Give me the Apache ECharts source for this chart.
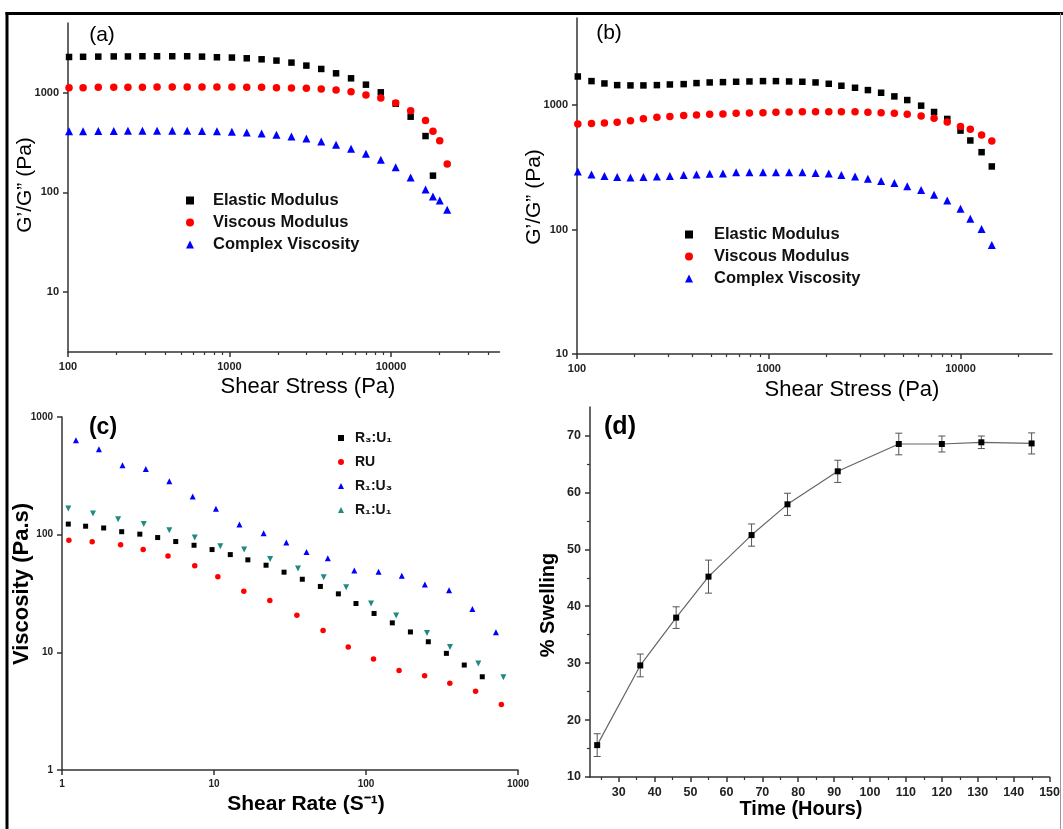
<!DOCTYPE html>
<html><head><meta charset="utf-8">
<script src="https://cdn.jsdelivr.net/npm/echarts@6/dist/echarts.min.js"></script>
<style>html,body{margin:0;padding:0;background:#fff}#c{width:1063px;height:829px}</style>
</head><body><div id="c"></div>
<script>
// ---------- Panel (a) ----------
const aStress = [101.5,124,154,192,235,289,356,442,547,676,836,1035,1279,1581,1954,2420,2993,3700,4571,5660,7000,8650,10700,13240,16370,18200,20040,22300];
const aElastic = [2280,2290,2300,2310,2310,2320,2320,2320,2320,2300,2265,2250,2213,2162,2098,2003,1869,1729,1564,1393,1203,1008,774,574,367,147];
const aViscous = [1123,1123,1131,1131,1131,1131,1140,1140,1140,1140,1140,1140,1131,1131,1123,1114,1105,1089,1064,1023,948,884,787,659,527,409,329,192];
const aComplex = [409,409,412,412,415,415,415,415,415,412,409,405,399,390,378,364,347,324,300,274,244,212,178,141,107,91,83,67];
// ---------- Panel (b) ----------
const bStress = [101,119,139,162,190,222,261,305,360,420,492,577,676,793,933,1090,1277,1497,1754,2056,2392,2818,3289,3855,4519,5275,6233,7280,8530,10000,11250,12880,14560];
const bElastic = [1695,1556,1490,1445,1437,1437,1445,1462,1472,1500,1518,1527,1537,1546,1556,1556,1546,1537,1518,1481,1428,1376,1318,1255,1173,1096,988,879,773,623,519,418,321];
const bViscous = [705,709,718,727,749,777,797,807,822,832,842,847,858,863,868,874,879,884,884,884,884,884,874,868,858,842,817,782,731,671,639,575,515];
const bComplex = [293,277,269,264,262,264,267,269,274,277,281,282,288,288,289,289,289,288,284,282,274,267,256,245,236,223,208,190,171,147,122,101,75];
// ---------- Panel (c) ----------
const cR3U1x = [1.10,1.43,1.88,2.47,3.25,4.26,5.60,7.39,9.71,12.8,16.7,22.0,28.9,38.1,50.1,65.8,85.9,113,149,196,257,338,443,582];
const cR3U1y = [123,118,114,106,101,94.5,87.4,81.3,74.7,67.7,61.1,55.0,48.0,41.8,36.3,31.4,26.0,21.4,17.8,14.9,12.3,9.8,7.8,6.2];
const cRUx = [1.11,1.58,2.43,3.42,4.98,7.47,10.6,15.7,23.3,35.1,52.2,76.4,112,165,243,356,526,777];
const cRUy = [89.7,86.9,81.9,74.7,66.0,54.3,43.8,33.1,27.6,20.7,15.3,11.1,8.76,7.01,6.32,5.45,4.66,3.61];
const cR1U3x = [1.235,1.75,2.50,3.56,5.08,7.24,10.3,14.7,21.2,29.9,40.6,56.1,83.8,121,172,244,352,501,716];
const cR1U3y = [634,531,389,362,284,211,166,122,103,85.7,71.4,63.1,49.6,48.3,44.7,37.7,33.7,23.4,14.8];
const cR1U1x = [1.10,1.60,2.34,3.45,5.08,7.47,11.0,15.8,23.4,35.7,52.7,74.1,108,158,252,357,548,801];
const cR1U1y = [167,151,135,123,109,94.5,79.7,74.7,62.2,51.5,43.5,35.8,26.0,20.6,14.6,11.1,8.04,6.15];
const cNames = ['R\u2083:U\u2081','RU','R\u2081:U\u2083','R\u2081:U\u2081'];
// ---------- Panel (d) ----------
const dTime = [24,36,46,55,67,77,91,108,120,131,145];
const dSwell = [15.6,29.6,38.0,45.2,52.5,57.9,63.7,68.5,68.5,68.8,68.6];
const dErr = [2.0,2.0,1.9,2.9,1.95,1.95,1.95,1.9,1.4,1.1,1.85];
// ---------- Tick labels ----------
const abXTicks = [100,1000,10000];
const aXMinor = [200,300,400,500,600,700,800,900,2000,3000,4000,5000,6000,7000,8000,9000,20000,30000,40000];
const bXMinor = [200,300,400,500,600,700,800,900,2000,3000,4000,5000,6000,7000,8000,9000,20000];
const abYTicks = [10,100,1000];
const cTicks = [1,10,100,1000];
const dXTicks = [30,40,50,60,70,80,90,100,110,120,130,140,150];
const dXMinor = [25,35,45,55,65,75,85,95,105,115,125,135,145];
const dYTicks = [10,20,30,40,50,60,70];
const dYMinor = [15,25,35,45,55,65];

const FONT = "'Liberation Sans', Arial, Helvetica, sans-serif";
const AX = '#333';
const zip = (xs, ys) => ys.map((y, i) => [xs[i], y]);

function axis(gridIndex, type, min, max, labels, fontSize, extra) {
  return Object.assign({
    gridIndex, type, min, max,
    axisLine: {show: true, lineStyle: {color: AX, width: 1.5}},
    axisTick: {show: true, inside: false, length: 5, customValues: labels, lineStyle: {color: AX, width: 1.5}},
    axisLabel: {show: true, customValues: labels, margin: 9, color: '#222', fontFamily: FONT, fontWeight: 'bold', fontSize,
      formatter: v => String(Math.round(v * 1000) / 1000)},
    splitLine: {show: false}, minorTick: {show: false}, minorSplitLine: {show: false}
  }, extra || {});
}
function minorAxis(gridIndex, type, min, max, ticks) {
  return {
    gridIndex, type, min, max,
    axisLine: {show: false},
    axisTick: {show: ticks.length > 0, inside: false, length: 3, customValues: ticks, lineStyle: {color: AX, width: 1.2}},
    axisLabel: {show: false},
    splitLine: {show: false}
  };
}
function hiddenAxis(gridIndex) {
  return {gridIndex, type: 'value', min: 0, max: 1, show: false};
}

const grids = [
  {left: 68, top: 23, width: 431.5, height: 329},
  {left: 577, top: 18, width: 475, height: 336},
  {left: 62, top: 417, width: 456, height: 353},
  {left: 590, top: 407, width: 460, height: 370}
];
const allGrids = grids.concat([grids[0], grids[1], grids[3]]).map(g => Object.assign({containLabel: false}, g));

const xAxes = [
  axis(0, 'log', 100, 47000, abXTicks, 11),
  axis(1, 'log', 100, 30000, abXTicks, 11),
  axis(2, 'log', 1, 1000, cTicks, 10),
  axis(3, 'value', 22, 150, dXTicks, 12.5),
  minorAxis(4, 'log', 100, 47000, aXMinor),
  minorAxis(5, 'log', 100, 30000, bXMinor),
  minorAxis(6, 'value', 22, 150, dXMinor)
];
const yAxes = [
  axis(0, 'log', 2.5, 5000, abYTicks, 11),
  axis(1, 'log', 10, 5000, abYTicks, 11),
  axis(2, 'log', 1, 1000, cTicks, 10),
  axis(3, 'value', 10, 75, dYTicks, 12.5),
  hiddenAxis(4),
  hiddenAxis(5),
  minorAxis(6, 'value', 10, 75, dYMinor)
];

function sc(name, xi, data, symbol, size, color, extra) {
  return Object.assign({
    type: 'scatter', name, xAxisIndex: xi, yAxisIndex: xi, data, symbol, symbolSize: size,
    itemStyle: {color, opacity: 1}, emphasis: {disabled: true}, silent: true
  }, extra || {});
}

const series = [
  sc('Elastic Modulus', 0, zip(aStress, aElastic), 'rect', 6.5, '#000'),
  sc('Viscous Modulus', 0, zip(aStress, aViscous), 'circle', 7.5, '#ff0000'),
  sc('Complex Viscosity', 0, zip(aStress, aComplex), 'triangle', 8, '#0000ff'),
  sc('Elastic Modulus', 1, zip(bStress, bElastic), 'rect', 6.5, '#000'),
  sc('Viscous Modulus', 1, zip(bStress, bViscous), 'circle', 7.5, '#ff0000'),
  sc('Complex Viscosity', 1, zip(bStress, bComplex), 'triangle', 8, '#0000ff'),
  sc(cNames[0], 2, zip(cR3U1x, cR3U1y), 'rect', 5, '#000'),
  sc(cNames[1], 2, zip(cRUx, cRUy), 'circle', 5.5, '#ff0000'),
  sc(cNames[2], 2, zip(cR1U3x, cR1U3y), 'triangle', 6, '#0000ff'),
  sc(cNames[3], 2, zip(cR1U1x, cR1U1y), 'triangle', 6, '#1f8a80', {symbolRotate: 180}),
  {
    type: 'custom', xAxisIndex: 3, yAxisIndex: 3, silent: true, z: 2,
    data: dTime.map((t, i) => [t, dSwell[i] - dErr[i], dSwell[i] + dErr[i]]),
    renderItem(params, api) {
      const x = api.value(0);
      const lo = api.coord([x, api.value(1)]);
      const hi = api.coord([x, api.value(2)]);
      const w = 3.5;
      const st = {stroke: '#555', lineWidth: 1};
      return {type: 'group', children: [
        {type: 'line', shape: {x1: lo[0], y1: lo[1], x2: hi[0], y2: hi[1]}, style: st},
        {type: 'line', shape: {x1: lo[0] - w, y1: lo[1], x2: lo[0] + w, y2: lo[1]}, style: st},
        {type: 'line', shape: {x1: hi[0] - w, y1: hi[1], x2: hi[0] + w, y2: hi[1]}, style: st}
      ]};
    }
  },
  {
    type: 'line', name: 'Swelling', xAxisIndex: 3, yAxisIndex: 3, z: 3, silent: true,
    data: zip(dTime, dSwell), symbol: 'rect', symbolSize: 6, showAllSymbol: true,
    itemStyle: {color: '#000'}, lineStyle: {color: '#666', width: 1.2}, emphasis: {disabled: true}
  }
];

function legend(names, left, top, iconSize, textPad, gap, fontSize, lineHeight) {
  return {
    data: names, orient: 'vertical', left, top, itemWidth: iconSize, itemHeight: iconSize, itemGap: gap, padding: 0,
    selectedMode: false,
    textStyle: {fontFamily: FONT, fontWeight: 'bold', fontSize, lineHeight, color: '#111', padding: [0, 0, 0, textPad]}
  };
}
const legends = [
  legend(['Elastic Modulus', 'Viscous Modulus', 'Complex Viscosity'], 186, 192, 8, 14, 5, 16.5, 16),
  legend(['Elastic Modulus', 'Viscous Modulus', 'Complex Viscosity'], 685, 226, 8, 16, 5, 16.5, 16),
  legend(cNames, 338, 430, 6, 6, 8, 14, 16)
];

function txt(text, x, y, size, weight, rot) {
  return {type: 'text', x, y, rotation: rot ? Math.PI / 2 : 0, z: 100,
    style: {text, fontFamily: FONT, fontSize: size, fontWeight: weight, fill: '#000', align: 'center', verticalAlign: 'middle'}};
}
const graphic = [
  {type: 'line', shape: {x1: 5.5, y1: 13.5, x2: 1063, y2: 13.5}, style: {stroke: '#000', lineWidth: 3}, z: 100},
  {type: 'line', shape: {x1: 7, y1: 12, x2: 7, y2: 829}, style: {stroke: '#000', lineWidth: 3}, z: 100},
  {type: 'line', shape: {x1: 1060.5, y1: 13, x2: 1060.5, y2: 829}, style: {stroke: '#999', lineWidth: 1}, z: 100},
  txt('(a)', 102, 35, 21, 'normal'),
  txt('(b)', 609, 33, 21, 'normal'),
  txt('(c)', 103, 428, 23, 'bold'),
  txt('(d)', 620, 427, 25, 'bold'),
  txt('Shear Stress (Pa)', 308, 387, 22, 'normal'),
  txt('Shear Stress (Pa)', 852, 390, 22, 'normal'),
  txt('G\u2019/G\u201D (Pa)', 25, 185, 21, 'normal', true),
  txt('G\u2019/G\u201D (Pa)', 534.5, 197, 21, 'normal', true),
  txt('Viscosity (Pa.s)', 22, 584, 22, 'bold', true),
  txt('Shear Rate (S\u207B\u00B9)', 306, 804, 21, 'bold'),
  txt('% Swelling', 548, 605, 20, 'bold', true),
  txt('Time (Hours)', 801, 809, 20, 'bold')
];

const chart = echarts.init(document.getElementById('c'), null, {renderer: 'canvas'});
chart.setOption({
  backgroundColor: '#fff',
  animation: false,
  grid: allGrids,
  xAxis: xAxes,
  yAxis: yAxes,
  legend: legends,
  series,
  graphic
});
</script>
</body></html>
